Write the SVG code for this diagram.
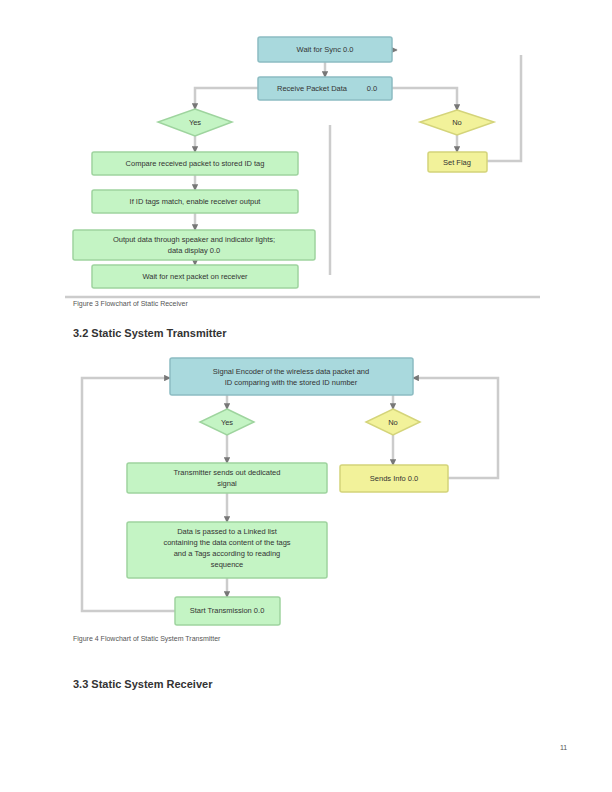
<svg xmlns="http://www.w3.org/2000/svg" width="612" height="792" viewBox="0 0 612 792">
<style>
.teal{fill:#a9d9dd;stroke:#8cbcc2;stroke-width:1.5}
.grn{fill:#c4f4c4;stroke:#9ed49e;stroke-width:1.5}
.yel{fill:#f2f29a;stroke:#d4d47a;stroke-width:1.5}
.t{font-family:"Liberation Sans",Arial,sans-serif;font-size:7.5px;fill:#333;text-anchor:middle}
.cap{font-family:"Liberation Sans",Arial,sans-serif;font-size:7px;fill:#555}
.h{font-family:"Liberation Sans",Arial,sans-serif;font-size:11px;font-weight:bold;fill:#333}
.ln{fill:none;stroke:#cccccc;stroke-width:2.5}
.ar{fill:none;stroke:#cccccc;stroke-width:2.5;marker-end:url(#a)}
</style>
<defs>
<marker id="a" viewBox="0 0 10 10" refX="9" refY="5" markerWidth="2.6" markerHeight="2.6" orient="auto"><path d="M0,0L10,5L0,10z" fill="#777"/></marker>
</defs>
<rect width="612" height="792" fill="#fff"/>
<g id="connectors">
<path class="ar" d="M325,62V77"/>
<path class="ar" d="M258,88H195V109"/>
<path class="ar" d="M392,88H457V110"/>
<path class="ar" d="M195,136V152"/>
<path class="ar" d="M457,135V152"/>
<path class="ar" d="M195,175V190"/>
<path class="ar" d="M195,213V230"/>
<path class="ar" d="M195,260V265"/>
<path class="ln" d="M487,161H521V55"/>
<path class="ar" d="M392,50H397"/>
<path class="ln" d="M330,125V275"/>
<path class="ln" d="M65,297H540" stroke-width="1.5"/>
<path class="ar" d="M227,395V409"/>
<path class="ar" d="M393,395V409"/>
<path class="ar" d="M227,435V463"/>
<path class="ar" d="M393,435V465"/>
<path class="ar" d="M227,493V522"/>
<path class="ar" d="M227,578V597"/>
<path class="ar" d="M175,611H82V378H170"/>
<path class="ar" d="M448,478H498V378H413"/>
</g>
<g id="n1"><rect class="teal" x="258" y="37" width="134" height="25" rx="2"/><text class="t" x="325" y="52">Wait for Sync 0.0</text></g>
<g id="n2"><rect class="teal" x="258" y="77" width="134" height="23" rx="2"/><text class="t" x="312" y="91">Receive Packet Data</text><text class="t" x="372" y="91">0.0</text></g>
<g id="d1"><path class="grn" d="M195,109L232,122L195,136L158,122z"/><text class="t" x="195" y="125">Yes</text></g>
<g id="d2"><path class="yel" d="M457,110L494,122L457,135L420,122z"/><text class="t" x="457" y="125">No</text></g>
<g id="y1"><rect class="yel" x="428" y="152" width="59" height="20" rx="2"/><text class="t" x="457" y="165">Set Flag</text></g>
<g id="g1"><rect class="grn" x="92" y="152" width="206" height="23" rx="2"/><text class="t" x="195" y="166">Compare received packet to stored ID tag</text></g>
<g id="g2"><rect class="grn" x="92" y="190" width="206" height="23" rx="2"/><text class="t" x="195" y="204">If ID tags match, enable receiver output</text></g>
<g id="g3"><rect class="grn" x="73" y="230" width="242" height="30" rx="2"/><text class="t" x="194" y="242">Output data through speaker and indicator lights;</text><text class="t" x="194" y="253">data display 0.0</text></g>
<g id="g4"><rect class="grn" x="92" y="265" width="206" height="23" rx="2"/><text class="t" x="195" y="279">Wait for next packet on receiver</text></g>
<text class="cap" x="73" y="306">Figure 3 Flowchart of Static Receiver</text>
<text class="h" x="73" y="337">3.2 Static System Transmitter</text>
<g id="b1"><rect class="teal" x="170" y="358" width="243" height="37" rx="2"/><text class="t" x="291" y="374">Signal Encoder of the wireless data packet and</text><text class="t" x="291" y="385">ID comparing with the stored ID number</text></g>
<g id="bd1"><path class="grn" d="M227,409L254,422L227,435L200,422z"/><text class="t" x="227" y="425">Yes</text></g>
<g id="bd2"><path class="yel" d="M393,409L420,422L393,435L366,422z"/><text class="t" x="393" y="425">No</text></g>
<g id="bg1"><rect class="grn" x="127" y="463" width="200" height="30" rx="2"/><text class="t" x="227" y="475">Transmitter sends out dedicated</text><text class="t" x="227" y="486">signal</text></g>
<g id="by1"><rect class="yel" x="340" y="465" width="108" height="27" rx="2"/><text class="t" x="394" y="481">Sends Info 0.0</text></g>
<g id="bg2"><rect class="grn" x="127" y="522" width="200" height="56" rx="2"/><text class="t" x="227" y="534">Data is passed to a Linked list</text><text class="t" x="227" y="545">containing the data content of the tags</text><text class="t" x="227" y="556">and a Tags according to reading</text><text class="t" x="227" y="567">sequence</text></g>
<g id="bg3"><rect class="grn" x="175" y="597" width="105" height="28" rx="2"/><text class="t" x="227" y="613">Start Transmission 0.0</text></g>
<text class="cap" x="73" y="641">Figure 4 Flowchart of Static System Transmitter</text>
<text class="h" x="73" y="688">3.3 Static System Receiver</text>
<text class="cap" x="560" y="750">11</text>
</svg>
